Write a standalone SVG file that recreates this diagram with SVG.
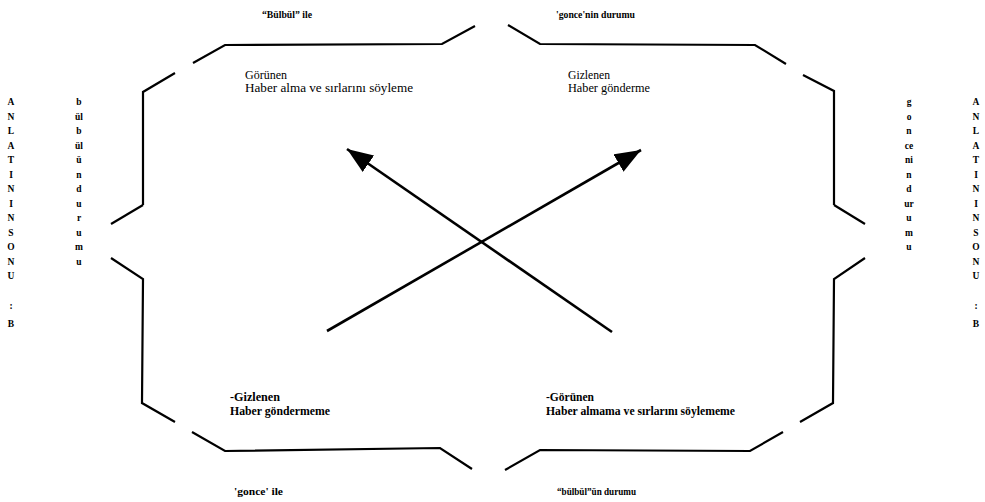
<svg xmlns="http://www.w3.org/2000/svg" width="985" height="502" viewBox="0 0 985 502">
<defs>
<style>
.br{fill:none;stroke:#000;stroke-width:2.2;stroke-linejoin:miter;stroke-linecap:butt}
.ar{fill:none;stroke:#000;stroke-width:2.6}
.t{font-family:"Liberation Serif","Times New Roman",serif;font-size:11.5px;fill:#000}
.tb{font-family:"Liberation Serif","Times New Roman",serif;font-size:11.5px;font-weight:bold;fill:#000}
.lb{font-family:"Liberation Serif","Times New Roman",serif;font-size:10px;font-weight:bold;fill:#000}
.col{font-family:"Liberation Serif","Times New Roman",serif;font-size:9.5px;font-weight:bold;fill:#000;text-anchor:middle}
</style>
<marker id="ah" markerUnits="userSpaceOnUse" markerWidth="28" markerHeight="22" refX="26" refY="10" orient="auto">
<path d="M0,0 L26,10 L0,20 z" fill="#000"/>
</marker>
</defs>
<rect width="985" height="502" fill="#fff"/>
<g id="frame">
<path class="br" d="M143,205 L143,92 L175,73"/>
<path class="br" d="M193,63 L225,45 L442,44 L475,26"/>
<path class="br" d="M508,25 L540,44 L755,45 L786,64"/>
<path class="br" d="M803,75 L834,91 L834,205"/>
<path class="br" d="M143,205 L111,224"/>
<path class="br" d="M111,258 L143,279 L142,403 L175,422"/>
<path class="br" d="M192,432 L225,451 L440,448 L472,469"/>
<path class="br" d="M505,470 L540,450 L750,451 L783,432"/>
<path class="br" d="M800,422 L833,403 L834,279 L865,258"/>
<path class="br" d="M834,205 L865,224"/>
</g>
<g id="top-labels">
<text class="lb" x="262" y="18" textLength="50" lengthAdjust="spacingAndGlyphs">“Bülbül” ile</text>
<text class="lb" x="556" y="18" textLength="79" lengthAdjust="spacingAndGlyphs">'gonce'nin durumu</text>
</g>
<g id="bottom-labels">
<text class="lb" x="234" y="495" textLength="49" lengthAdjust="spacingAndGlyphs">'gonce' ile</text>
<text class="lb" x="557" y="495" textLength="79" lengthAdjust="spacingAndGlyphs">“bülbül”ün durumu</text>
</g>
<g id="node-top-left">
<text class="t" x="245" y="79" textLength="42" lengthAdjust="spacingAndGlyphs">Görünen</text>
<text class="t" x="245" y="92" textLength="168" lengthAdjust="spacingAndGlyphs">Haber alma ve sırlarını söyleme</text>
</g>
<g id="node-top-right">
<text class="t" x="568" y="79" textLength="42" lengthAdjust="spacingAndGlyphs">Gizlenen</text>
<text class="t" x="568" y="92" textLength="82" lengthAdjust="spacingAndGlyphs">Haber gönderme</text>
</g>
<g id="node-bottom-left">
<text class="tb" x="230" y="401" textLength="50" lengthAdjust="spacingAndGlyphs">-Gizlenen</text>
<text class="tb" x="230" y="415" textLength="100" lengthAdjust="spacingAndGlyphs">Haber göndermeme</text>
</g>
<g id="node-bottom-right">
<text class="tb" x="546" y="401" textLength="48" lengthAdjust="spacingAndGlyphs">-Görünen</text>
<text class="tb" x="546" y="415" textLength="189" lengthAdjust="spacingAndGlyphs">Haber almama ve sırlarını söylememe</text>
</g>
<g id="left-columns">
<text class="col" x="11" y="105">A</text>
<text class="col" x="11" y="119.5">N</text>
<text class="col" x="11" y="134">L</text>
<text class="col" x="11" y="148.5">A</text>
<text class="col" x="11" y="163">T</text>
<text class="col" x="11" y="177.5">I</text>
<text class="col" x="11" y="192">N</text>
<text class="col" x="11" y="206.5">I</text>
<text class="col" x="11" y="221">N</text>
<text class="col" x="11" y="235.5">S</text>
<text class="col" x="11" y="250">O</text>
<text class="col" x="11" y="264.5">N</text>
<text class="col" x="11" y="279">U</text>
<text class="col" x="11" y="309">:</text>
<text class="col" x="11" y="327">B</text>
<text class="col" x="79" y="105">b</text>
<text class="col" x="79" y="119.5">ül</text>
<text class="col" x="79" y="134">b</text>
<text class="col" x="79" y="148.5">ül</text>
<text class="col" x="79" y="163">ü</text>
<text class="col" x="79" y="177.5">n</text>
<text class="col" x="79" y="192">d</text>
<text class="col" x="79" y="206.5">u</text>
<text class="col" x="79" y="221">r</text>
<text class="col" x="79" y="235.5">u</text>
<text class="col" x="79" y="250">m</text>
<text class="col" x="79" y="264.5">u</text>
</g>
<g id="right-columns">
<text class="col" x="909" y="105">g</text>
<text class="col" x="909" y="119.5">o</text>
<text class="col" x="909" y="134">n</text>
<text class="col" x="909" y="148.5">ce</text>
<text class="col" x="909" y="163">ni</text>
<text class="col" x="909" y="177.5">n</text>
<text class="col" x="909" y="192">d</text>
<text class="col" x="909" y="206.5">ur</text>
<text class="col" x="909" y="221">u</text>
<text class="col" x="909" y="235.5">m</text>
<text class="col" x="909" y="250">u</text>
<text class="col" x="976" y="105">A</text>
<text class="col" x="976" y="119.5">N</text>
<text class="col" x="976" y="134">L</text>
<text class="col" x="976" y="148.5">A</text>
<text class="col" x="976" y="163">T</text>
<text class="col" x="976" y="177.5">I</text>
<text class="col" x="976" y="192">N</text>
<text class="col" x="976" y="206.5">I</text>
<text class="col" x="976" y="221">N</text>
<text class="col" x="976" y="235.5">S</text>
<text class="col" x="976" y="250">O</text>
<text class="col" x="976" y="264.5">N</text>
<text class="col" x="976" y="279">U</text>
<text class="col" x="976" y="309">:</text>
<text class="col" x="976" y="327">B</text>
</g>
<g id="connectors">
<line class="ar" x1="612" y1="332" x2="347" y2="149" marker-end="url(#ah)"/>
<line class="ar" x1="327" y1="331" x2="641" y2="150" marker-end="url(#ah)"/>
</g>
</svg>
